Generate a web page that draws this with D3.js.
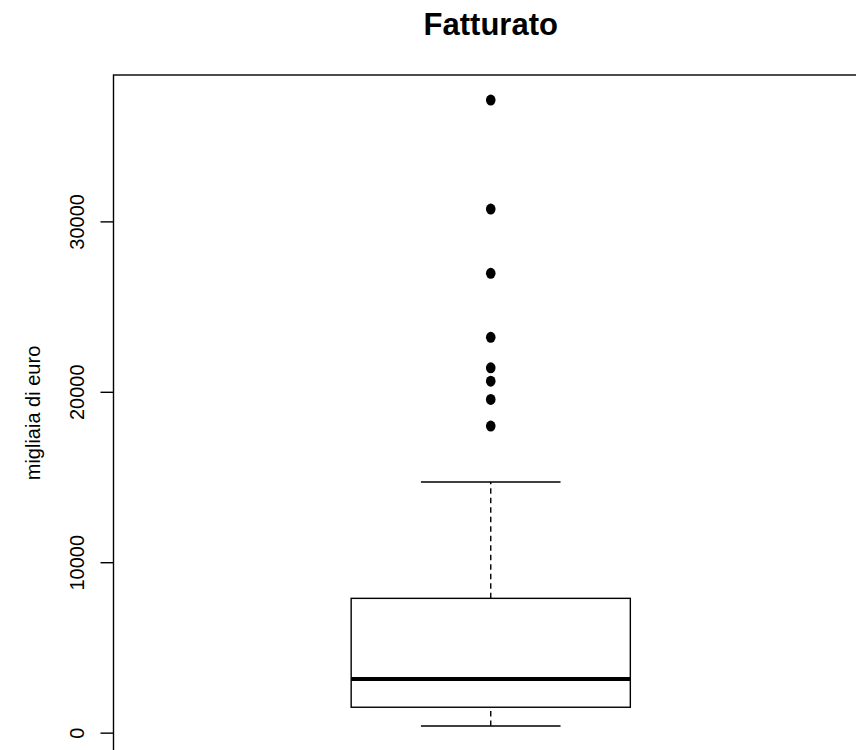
<!DOCTYPE html>
<html>
<head>
<meta charset="utf-8">
<script src="https://cdn.jsdelivr.net/npm/d3@7"></script>
<style>
  html, body { margin: 0; padding: 0; background: #fff; }
  svg { display: block; font-family: "Liberation Sans", Arial, sans-serif; }
</style>
</head>
<body>
<div id="chart"></div>
<script>
// Fatturato — single boxplot, values in migliaia di euro

const title = 'Fatturato';
const yLabel = 'migliaia di euro';

// five-number summary: lower whisker, Q1, median, Q3, upper whisker
const stats = [392, 1490, 3150, 7880, 14710];
const outliers = [17990, 19550, 20620, 21410, 23200, 26950, 30720, 37120];
const yTicks = [0, 10000, 20000, 30000];

const width = 856;
const height = 750;
const plot = { left: 113.5, right: 868, top: 75, bottom: 751 };

const svg = d3.select('#chart')
  .append('svg')
  .attr('width', width)
  .attr('height', height);

// R style: ylim = data range + 4%
const lo = d3.min([stats[0], ...outliers]);
const hi = d3.max([stats[4], ...outliers]);
const pad = (hi - lo) * 0.04;

const y = d3.scaleLinear()
  .domain([lo - pad, hi + pad])
  .range([plot.bottom, plot.top]);

const x = d3.scaleLinear()
  .domain([0.5, 1.5])
  .range([plot.left, plot.right]);

const boxHalf = 0.185;
const capHalf = boxHalf / 2;

// whiskers (dashed)
svg.append('line')
  .attr('x1', x(1)).attr('x2', x(1))
  .attr('y1', y(stats[3])).attr('y2', y(stats[4]))
  .attr('stroke', '#000').attr('stroke-width', 1.4)
  .attr('stroke-dasharray', '5.5,4');
svg.append('line')
  .attr('x1', x(1)).attr('x2', x(1))
  .attr('y1', y(stats[0])).attr('y2', y(stats[1]))
  .attr('stroke', '#000').attr('stroke-width', 1.4)
  .attr('stroke-dasharray', '5.5,4');

// whisker caps
[stats[0], stats[4]].forEach(v => {
  svg.append('line')
    .attr('x1', x(1 - capHalf)).attr('x2', x(1 + capHalf))
    .attr('y1', y(v)).attr('y2', y(v))
    .attr('stroke', '#000').attr('stroke-width', 1.4);
});

// box
svg.append('rect')
  .attr('x', x(1 - boxHalf))
  .attr('y', y(stats[3]))
  .attr('width', x(1 + boxHalf) - x(1 - boxHalf))
  .attr('height', y(stats[1]) - y(stats[3]))
  .attr('fill', 'none')
  .attr('stroke', '#000')
  .attr('stroke-width', 1.4);

// median
svg.append('line')
  .attr('x1', x(1 - boxHalf)).attr('x2', x(1 + boxHalf))
  .attr('y1', y(stats[2])).attr('y2', y(stats[2]))
  .attr('stroke', '#000').attr('stroke-width', 4);

// outliers
svg.append('g')
  .selectAll('ellipse')
  .data(outliers)
  .join('ellipse')
  .attr('cx', x(1))
  .attr('cy', d => y(d))
  .attr('rx', 4.8)
  .attr('ry', 5.5)
  .attr('fill', '#000');

// frame
svg.append('rect')
  .attr('x', plot.left)
  .attr('y', plot.top)
  .attr('width', plot.right - plot.left)
  .attr('height', plot.bottom - plot.top)
  .attr('fill', 'none')
  .attr('stroke', '#000')
  .attr('stroke-width', 1.4);

// y axis
const yAxis = d3.axisLeft(y)
  .tickValues(yTicks)
  .tickSize(13)
  .tickPadding(8)
  .tickFormat(d3.format('d'));

const ag = svg.append('g')
  .attr('transform', `translate(${plot.left},0)`)
  .call(yAxis);
ag.select('.domain').remove();
ag.selectAll('.tick line').attr('stroke', '#000').attr('stroke-width', 1.4);
ag.selectAll('.tick text')
  .attr('font-size', 20)
  .attr('font-family', '"Liberation Sans", Arial, sans-serif')
  .attr('fill', '#000')
  .attr('x', null)
  .attr('dy', null)
  .attr('text-anchor', 'middle')
  .attr('transform', 'translate(-30,0) rotate(-90)');

// y label, centred on the plot region like R does
svg.append('text')
  .attr('transform', `translate(40,${(plot.top + plot.bottom) / 2}) rotate(-90)`)
  .attr('text-anchor', 'middle')
  .attr('font-size', 20)
  .attr('fill', '#000')
  .text(yLabel);

// title
svg.append('text')
  .attr('x', x(1))
  .attr('y', 35)
  .attr('text-anchor', 'middle')
  .attr('font-size', 31)
  .attr('font-weight', 'bold')
  .attr('fill', '#000')
  .text(title);
</script>
</body>
</html>
